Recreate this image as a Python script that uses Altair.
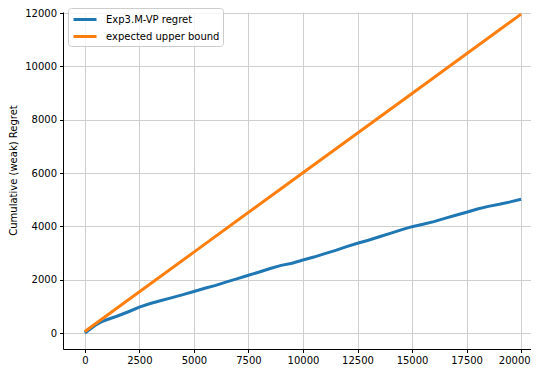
import altair as alt
import pandas as pd

# Data
rounds = [0, 250, 500, 750, 1000, 1500, 2000, 2500, 3000, 3500, 4000, 4500, 5000,
          5500, 6000, 6500, 7000, 7500, 8000, 8500, 9000, 9500, 10000, 10500,
          11000, 11500, 12000, 12500, 13000, 13500, 14000, 14500, 15000, 15500,
          16000, 16500, 17000, 17500, 18000, 18500, 19000, 19500, 20000]
regret = [0, 150, 300, 420, 500, 640, 800, 975, 1110, 1220, 1330, 1440, 1560,
          1680, 1790, 1920, 2040, 2170, 2290, 2420, 2540, 2620, 2740, 2850,
          2980, 3100, 3240, 3370, 3480, 3610, 3740, 3870, 3990, 4080,
          4180, 4300, 4420, 4530, 4650, 4750, 4830, 4920, 5020]
bound_rounds = [0, 5000, 10000, 15000, 20000]
bound = [60, 3035, 6010, 8985, 11960]

series_names = ["Exp3.M-VP regret", "expected upper bound"]
series_colors = ["#1f77b4", "#ff7f0e"]

x_ticks = [0, 2500, 5000, 7500, 10000, 12500, 15000, 17500, 20000]
y_ticks = [0, 2000, 4000, 6000, 8000, 10000, 12000]

rows = []
for i, (t, v) in enumerate(zip(rounds, regret)):
    rows.append({"t": t, "v": v, "series": series_names[0], "o": i})
for i, (t, v) in enumerate(zip(bound_rounds, bound)):
    rows.append({"t": t, "v": v, "series": series_names[1], "o": i})
df = pd.DataFrame(rows)

chart = alt.Chart(df).mark_line(strokeWidth=3).encode(
    x=alt.X("t:Q",
            scale=alt.Scale(domain=[-1000, 20453], nice=False, zero=False),
            axis=alt.Axis(values=x_ticks, format="d", title=None,
                          labelFlush=15, labelFlushOffset=9)),
    y=alt.Y("v:Q",
            scale=alt.Scale(domain=[-597, 12039], nice=False, zero=False),
            axis=alt.Axis(values=y_ticks, format="d",
                          title="Cumulative (weak) Regret",
                          titleX=-45, titleY=158)),
    color=alt.Color("series:N",
                    scale=alt.Scale(domain=series_names, range=series_colors),
                    legend=alt.Legend(title=None, orient="none", legendX=5, legendY=-4,
                                      symbolType="M-0.86,0H2.43", symbolSize=196,
                                      symbolStrokeWidth=3, labelFontSize=10,
                                      labelColor="#000000", rowPadding=2,
                                      padding=3, fillColor="rgba(255,255,255,0.8)",
                                      strokeColor="#cccccc", cornerRadius=3,
                                      labelOffset=18)),
    order="o:Q",
).properties(
    width=468,
    height=337,
    autosize=alt.AutoSizeParams(type="none"),
    padding={"left": 55, "top": 4, "right": 0, "bottom": 18},
).configure(
    font="DejaVu Sans",
).configure_view(
    strokeWidth=0,
).configure_axis(
    grid=True,
    gridColor="#cfcfcf",
    gridWidth=1,
    domainColor="#000000",
    domainWidth=1,
    tickColor="#000000",
    tickSize=3.5,
    labelColor="#000000",
    labelFontSize=10,
    labelPadding=3,
    titleFontSize=10,
    titleFontWeight="normal",
    titleColor="#000000",
)

chart.save("out.html", embed_options={"renderer": "svg", "actions": False})
